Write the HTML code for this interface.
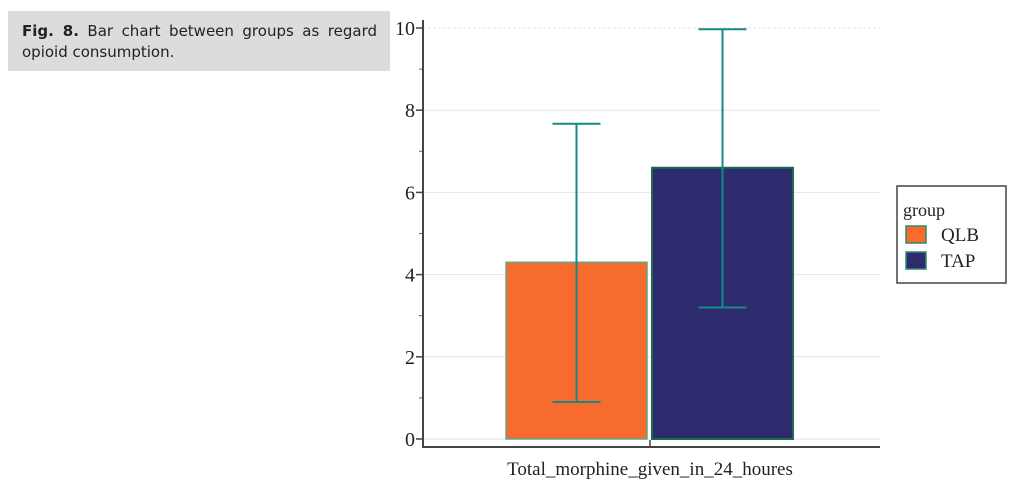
<!DOCTYPE html>
<html><head><meta charset="utf-8"><style>
body{margin:0;width:1016px;height:486px;background:#fff;overflow:hidden;position:relative;font-family:"Liberation Sans",sans-serif}
#cap{position:absolute;left:8px;top:11px;width:382px;height:60px;background:#dcdcdc;box-sizing:border-box;padding:10px 13px 0 14px;font-family:"DejaVu Sans",sans-serif;font-size:15px;line-height:21px;color:#222;text-align:justify;text-align-last:left}
svg{position:absolute;left:0;top:0}
</style></head><body>
<div id="cap"><b>Fig. 8.</b> Bar chart between groups as regard opioid consumption.</div>
<svg width="1016" height="486" id="chart"></svg>
<script>
const groups=["QLB","TAP"];
const means=[4.3,6.6];
const lower=[0.9,3.2];
const upper=[7.67,9.97];
const colors=["#f76b2f","#2d2a6e"];
const yTicks=[0,2,4,6,8,10];
const category="Total_morphine_given_in_24_houres";
const ns="http://www.w3.org/2000/svg";
const svg=document.getElementById('chart');
const y0=439,yk=41.1,axX=423,plotR=880;
const Y=v=>y0-v*yk;
const barX=i=>506+i*146, barW=141;
function mk(t,a,p){const e=document.createElementNS(ns,t);for(const k in a)e.setAttribute(k,a[k]);(p||svg).appendChild(e);return e;}
for(const t of yTicks){
 let g=mk('line',{x1:axX,x2:plotR,y1:Y(t),y2:Y(t),stroke:'#e4e4e4','stroke-width':1,'stroke-dasharray':t==10?'3,2':''});
 
 
 mk('line',{x1:axX-7,x2:axX,y1:Y(t),y2:Y(t),stroke:'#444','stroke-width':1.5});
 let tx=mk('text',{x:axX-8,y:Y(t)+7,'text-anchor':'end','font-family':'Liberation Serif, serif','font-size':20,fill:'#222'});
 tx.textContent=t;
 
 
}
for(let t=1;t<10;t+=2) mk('line',{x1:axX-4,x2:axX,y1:Y(t),y2:Y(t),stroke:'#666','stroke-width':1});
groups.forEach((g,i)=>{
 let r=mk('rect',{x:barX(i),y:Y(means[i]),width:barW,height:Y(0)-Y(means[i]),fill:colors[i],stroke:i?'#1e6a4a':'#5fa88a','stroke-width':i?2:1.5});
 
 
});
groups.forEach((g,i)=>{
 const cx=barX(i)+barW/2;
 const e=mk('g',{stroke:'#138a85','stroke-width':2,fill:'none'});
 
 
 mk('line',{x1:cx,x2:cx,y1:Y(upper[i]),y2:Y(lower[i])},e);
 mk('line',{x1:cx-24,x2:cx+24,y1:Y(upper[i]),y2:Y(upper[i])},e);
 mk('line',{x1:cx-24,x2:cx+24,y1:Y(lower[i]),y2:Y(lower[i])},e);
});
let ya=mk('line',{x1:axX,x2:axX,y1:20,y2:448,stroke:'#444','stroke-width':2});


let xa=mk('line',{x1:axX-1,x2:880,y1:447,y2:447,stroke:'#444','stroke-width':2});


mk('line',{x1:650,x2:650,y1:440,y2:447,stroke:'#444','stroke-width':1.5});
let xl=mk('text',{x:650,y:475,'text-anchor':'middle','font-family':'Liberation Serif, serif','font-size':19,fill:'#222'});
xl.textContent=category;


const lg=mk('g',{});


mk('rect',{x:897,y:186,width:109,height:97,fill:'#fff',stroke:'#444','stroke-width':1.5},lg);
let lt=mk('text',{x:903,y:216,'font-family':'Liberation Serif, serif','font-size':18,fill:'#222'},lg);
lt.textContent='group';
groups.forEach((g,i)=>{
 const yy=226+i*26;
 let s=mk('rect',{x:906,y:yy,width:20,height:17,fill:colors[i],stroke:'#2e8a6a','stroke-width':1.5},lg);
 
 
 let t=mk('text',{x:941,y:yy+15,'font-family':'Liberation Serif, serif','font-size':19,fill:'#222'},lg);
 t.textContent=g;
 
 
});
</script>
</body></html>
